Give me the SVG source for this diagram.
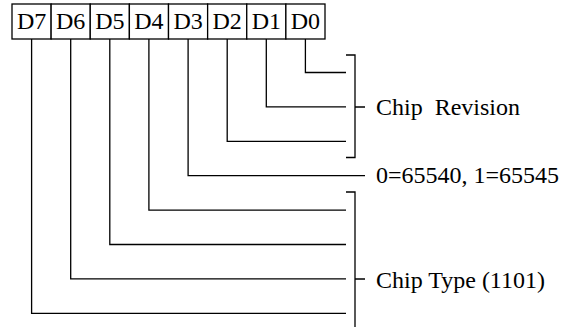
<svg xmlns="http://www.w3.org/2000/svg" width="576" height="327" viewBox="0 0 576 327">
<style>
.cell{fill:#fff;stroke:#000;stroke-width:1.3}
.bit{font-family:"Liberation Serif",serif;font-size:24px;text-anchor:middle;fill:#000}
.lbl{font-family:"Liberation Serif",serif;font-size:24px;fill:#000}
.ln{fill:none;stroke:#000;stroke-width:1.3}
</style>
<rect width="576" height="327" fill="#fff"/>
<g id="bit-D7"><rect class="cell" x="12" y="4" width="39.125" height="35"/><text class="bit" x="31.6" y="29">D7</text></g>
<g id="bit-D6"><rect class="cell" x="51.125" y="4" width="39.125" height="35"/><text class="bit" x="70.7" y="29">D6</text></g>
<g id="bit-D5"><rect class="cell" x="90.25" y="4" width="39.125" height="35"/><text class="bit" x="109.8" y="29">D5</text></g>
<g id="bit-D4"><rect class="cell" x="129.375" y="4" width="39.125" height="35"/><text class="bit" x="148.9" y="29">D4</text></g>
<g id="bit-D3"><rect class="cell" x="168.5" y="4" width="39.125" height="35"/><text class="bit" x="188.1" y="29">D3</text></g>
<g id="bit-D2"><rect class="cell" x="207.625" y="4" width="39.125" height="35"/><text class="bit" x="227.2" y="29">D2</text></g>
<g id="bit-D1"><rect class="cell" x="246.75" y="4" width="39.125" height="35"/><text class="bit" x="266.3" y="29">D1</text></g>
<g id="bit-D0"><rect class="cell" x="285.875" y="4" width="39.125" height="35"/><text class="bit" x="305.4" y="29">D0</text></g>
<g id="label-revision"><text class="lbl" x="376" y="115" xml:space="preserve">Chip  Revision</text></g>
<g id="label-model"><text class="lbl" x="376" y="183">0=65540, 1=65545</text></g>
<g id="label-type"><text class="lbl" x="376" y="288">Chip Type (1101)</text></g>
<g id="connectors">
<path class="ln" d="M305.4 39V72.5H346"/>
<path class="ln" d="M266.3 39V106.9H346"/>
<path class="ln" d="M227.2 39V141.3H346"/>
<path class="ln" d="M188.1 39V175.7H365"/>
<path class="ln" d="M148.9 39V210.1H346"/>
<path class="ln" d="M109.8 39V244.5H346"/>
<path class="ln" d="M70.7 39V278.9H346"/>
<path class="ln" d="M31.6 39V313.3H346"/>
<path class="ln" d="M346 55H355V157.5H346M355 107H365"/>
<path class="ln" d="M346 192H355V327M355 279H365"/>
</g>
</svg>
